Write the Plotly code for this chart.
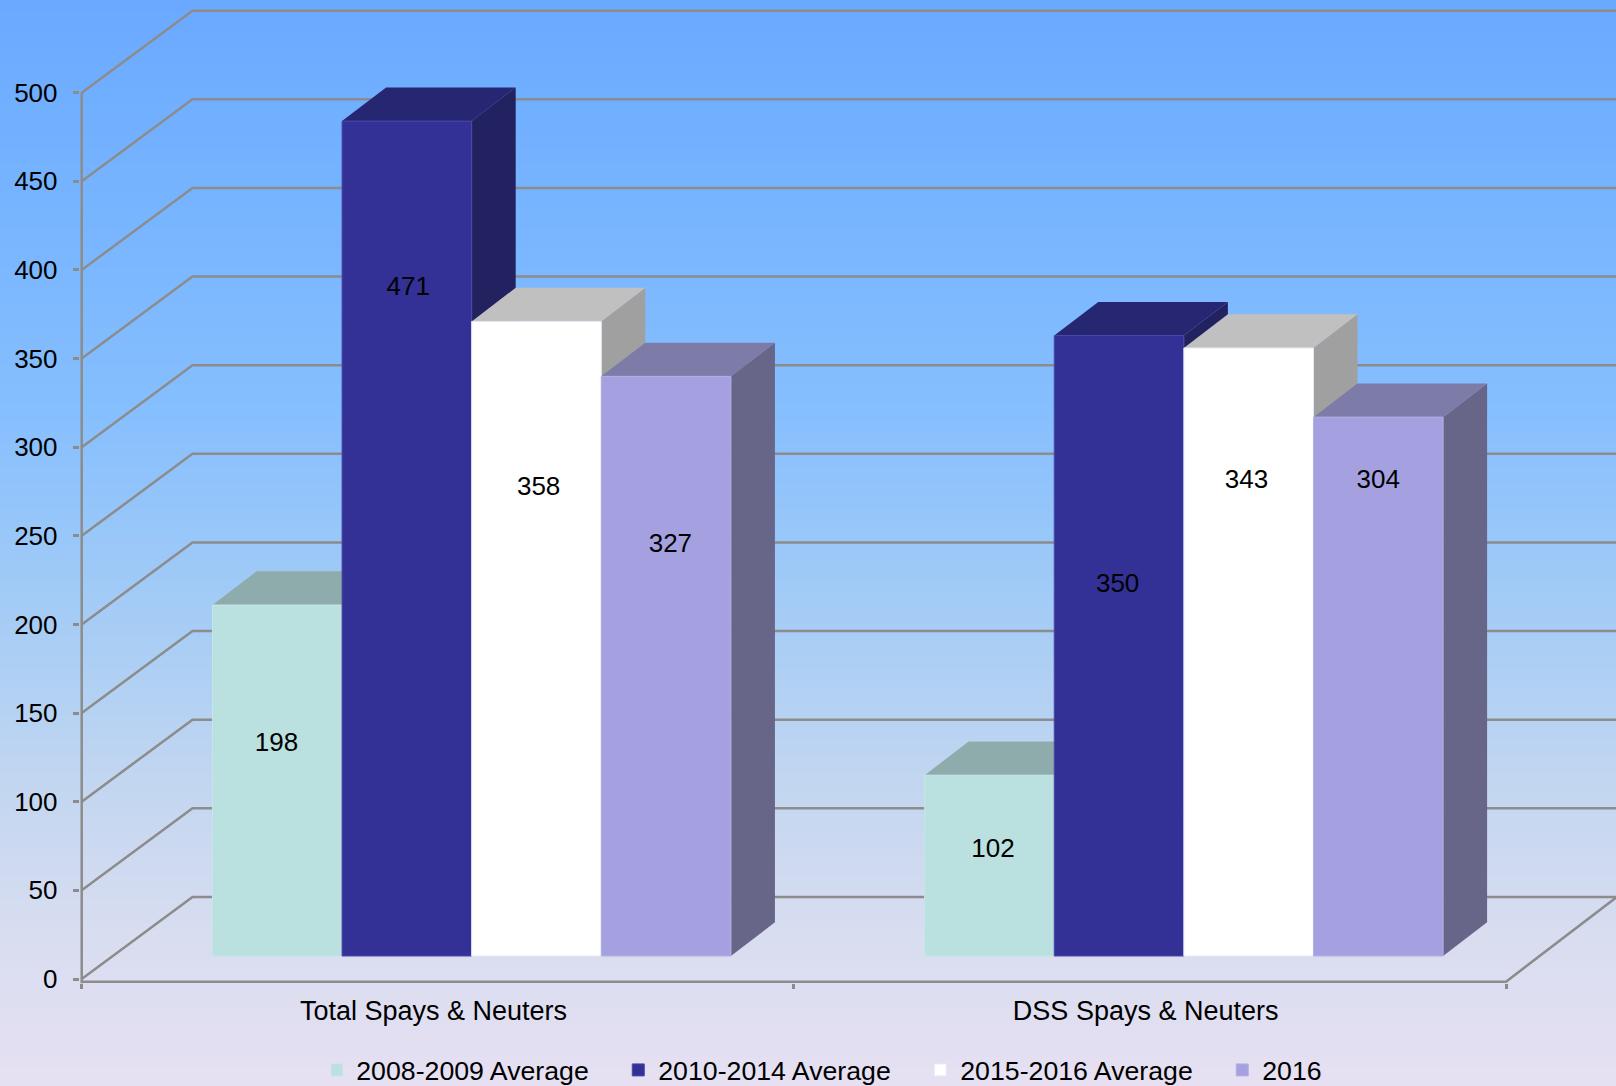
import numpy as np
import plotly.graph_objects as go

categories = ["Total Spays & Neuters", "DSS Spays & Neuters"]
series_names = ["2008-2009 Average", "2010-2014 Average", "2015-2016 Average", "2016"]
series_values = [[198, 102], [471, 350], [358, 343], [327, 304]]
label_heights = [[132.3, 72.4], [389.8, 221.8], [276.5, 280.6], [244.5, 280.6]]
label_shifts = [[-0.001, 0.005], [0.002, -0.002], [0.003, -0.003], [0.006, 0.0]]
y_ticks = [0, 50, 100, 150, 200, 250, 300, 350, 400, 450, 500]

front_colors = ["#BAE0E0", "#333096", "#FFFFFF", "#A5A1E1"]
edge_colors = ["#C4E6E6", "#4A48A8", "#E8E8F4", "#B2AFE6"]
top_colors = ["#8FACAC", "#262673", "#C0C0C0", "#7D7BA8"]
side_colors = ["#758D8D", "#222260", "#A0A0A0", "#676689"]
grid_color = "#8C8C8C"
font_family = "Liberation Sans, Arial, sans-serif"
font_size = 26

background_stops = [
    [0.0, "#6AA9FF"], [0.2, "#78B5FF"], [0.38, "#86BFFE"], [0.55, "#A2CBF6"],
    [0.72, "#C2D6F0"], [0.86, "#D8DDF0"], [1.0, "#E6E0F2"],
]

# chart geometry, expressed in axis units
BAR_WIDTH = 0.1820
GROUP_SHIFT = 0.0476
FLOOR_BASE = 12.97
BAR_DX, BAR_DY = 0.0618, 19.0
WALL_DX, WALL_DY = 0.1556, 46.3
X_END = 2.1544
X_START, Y_START = -0.0025, -2.5

fig = go.Figure()

# Background gradient on its own full-figure axes
fig.add_trace(go.Heatmap(
    z=np.linspace(1, 0, 256).reshape(-1, 1).repeat(2, axis=1).tolist(),
    colorscale=background_stops, zmin=0, zmax=1, showscale=False,
    hoverinfo="skip", zsmooth="best", xaxis="x", yaxis="y",
))

def line(xs, ys):
    fig.add_trace(go.Scatter(
        x=xs, y=ys, mode="lines", line=dict(color=grid_color, width=2.5),
        showlegend=False, hoverinfo="skip", xaxis="x2", yaxis="y2", cliponaxis=False, zorder=0,
    ))

# Back wall grid lines with the diagonal run along the side wall
for v in y_ticks:
    line([0, WALL_DX, X_END], [v, v + WALL_DY, v + WALL_DY])
# Axis lines and floor edge
line([0, 0], [Y_START, y_ticks[-1]])
line([0, 2, 2 + WALL_DX], [-1.5, -1.5, WALL_DY])

z = 1
for g in range(len(categories)):
    for s, name in enumerate(series_names):
        v = series_values[s][g]
        left = g + 0.5 + GROUP_SHIFT + (s - 2) * BAR_WIDTH
        right = left + BAR_WIDTH
        top = FLOOR_BASE + v
        # right side face
        fig.add_trace(go.Scatter(
            x=[right, right + BAR_DX, right + BAR_DX, right, right],
            y=[FLOOR_BASE, FLOOR_BASE + BAR_DY, top + BAR_DY, top, FLOOR_BASE],
            mode="lines", fill="toself", fillcolor=side_colors[s], line=dict(width=0),
            showlegend=False, hoverinfo="skip", xaxis="x2", yaxis="y2", zorder=z,
        ))
        # top face
        fig.add_trace(go.Scatter(
            x=[left, left + BAR_DX, right + BAR_DX, right, left],
            y=[top, top + BAR_DY, top + BAR_DY, top, top],
            mode="lines", fill="toself", fillcolor=top_colors[s], line=dict(width=0),
            showlegend=False, hoverinfo="skip", xaxis="x2", yaxis="y2", zorder=z,
        ))
        # front face
        fig.add_trace(go.Bar(
            x=[left + BAR_WIDTH / 2], y=[v], base=[FLOOR_BASE], width=[BAR_WIDTH],
            name=name, legendgroup=name, showlegend=(g == 0),
            marker=dict(color=front_colors[s], line=dict(color=edge_colors[s], width=1)),
            xaxis="x2", yaxis="y2", zorder=z + 1,
        ))
        z += 2

# Data labels
lx, ly, lt = [], [], []
for g in range(len(categories)):
    for s in range(len(series_names)):
        left = g + 0.5 + GROUP_SHIFT + (s - 2) * BAR_WIDTH
        lx.append(left + BAR_WIDTH / 2 + label_shifts[s][g])
        ly.append(label_heights[s][g])
        lt.append(str(series_values[s][g]))
fig.add_trace(go.Scatter(
    x=lx, y=ly, text=lt, mode="text", textposition="middle center",
    textfont=dict(family=font_family, size=font_size, color="#000000"),
    showlegend=False, hoverinfo="skip", xaxis="x2", yaxis="y2", zorder=z + 5,
))

fig.update_layout(
    width=1616, height=1086, autosize=False,
    margin=dict(l=0, r=0, t=0, b=0, pad=0, autoexpand=False),
    paper_bgcolor="#E6E0F2", plot_bgcolor="rgba(0,0,0,0)",
    barmode="overlay",
    font=dict(family=font_family, size=font_size, color="#000000"),
    xaxis=dict(domain=[0, 1], visible=False, fixedrange=True),
    yaxis=dict(domain=[0, 1], visible=False, fixedrange=True),
    xaxis2=dict(
        domain=[79.92 / 1616, 1], range=[X_START, X_END], anchor="y2",
        showgrid=False, zeroline=False, showline=False,
        tickmode="array", tickvals=[0.494, 1.494], ticktext=categories, ticks="",
        ticklabelstandoff=9,
        minor=dict(tickmode="array", tickvals=[0, 1, 2], ticks="outside", ticklen=4.5,
                   tickwidth=2.5, tickcolor=grid_color, showgrid=False),
        tickfont=dict(family=font_family, size=27, color="#000000"),
    ),
    yaxis2=dict(
        domain=[(1086 - 983.43) / 1086, 1], range=[Y_START, 552.3], anchor="x2",
        showgrid=False, zeroline=False, showline=False,
        tickmode="array", tickvals=y_ticks, ticks="outside", ticklen=6.2, tickwidth=2.5,
        tickcolor=grid_color, ticklabelstandoff=10,
        tickfont=dict(family=font_family, size=font_size, color="#000000"),
    ),
    legend=dict(
        orientation="h", x=0.205, xanchor="left", y=0.0147, yanchor="middle",
        bgcolor="rgba(0,0,0,0)", borderwidth=0, itemclick=False, itemdoubleclick=False,
        entrywidth=272, entrywidthmode="pixels", indentation=-15,
        font=dict(family=font_family, size=26.7, color="#000000"),
    ),
)

fig.write_html(
    "out.html",
    config={"displayModeBar": False},
    post_script="document.body.style.margin='0';document.body.style.overflow='hidden';",
)
